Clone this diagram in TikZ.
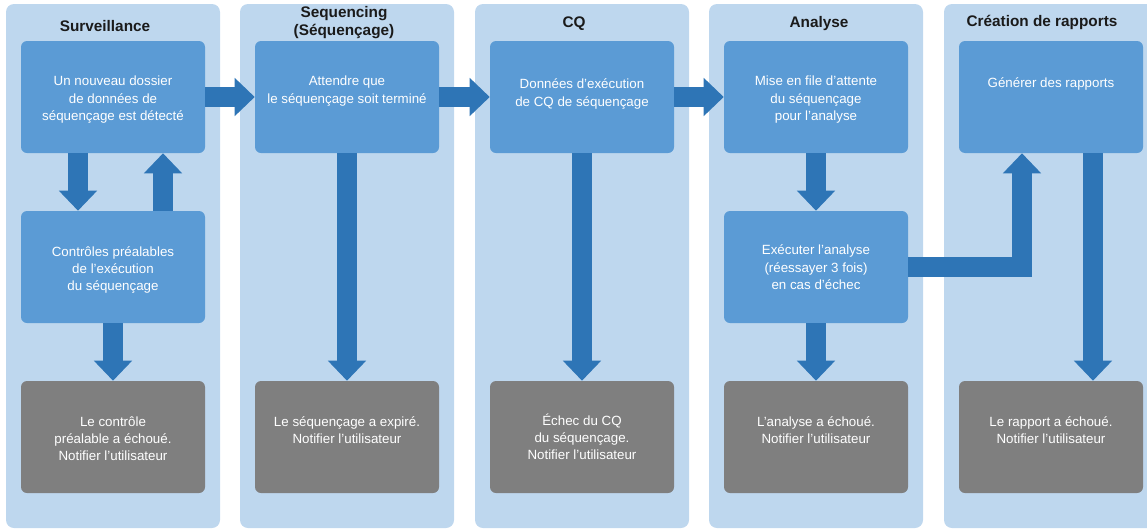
\documentclass[tikz,border=0pt]{standalone}
\usepackage{fontspec}
\setmainfont{Liberation Sans}
\usetikzlibrary{arrows.meta,calc}

\definecolor{lanebg}{RGB}{190,215,238}
\definecolor{stepblue}{RGB}{91,155,213}
\definecolor{flowblue}{RGB}{46,117,182}
\definecolor{failgrey}{RGB}{127,127,127}
\definecolor{titleink}{RGB}{26,26,26}

\tikzset{
  lane/.style={fill=lanebg, draw=none, rounded corners=6pt,
    minimum width=160.5pt, minimum height=393pt, inner sep=0pt},
  lanetitle/.style={font=\fontsize{11.5pt}{14pt}\selectfont\bfseries,
    text=titleink, align=center, inner sep=0pt},
  stepbox/.style={fill=stepblue, draw=none, rounded corners=4.5pt,
    minimum width=138pt, minimum height=84pt, inner sep=0pt},
  failbox/.style={stepbox, fill=failgrey},
  boxtext/.style={anchor=north, yshift=-26.5pt, align=center, text=white,
    inner sep=0pt, font=\fontsize{10pt}{13pt}\selectfont},
  flow/.style={draw=flowblue, line width=15pt, line cap=butt, line join=miter,
    -{Triangle[width=27.75pt,length=15pt]}},
}

\begin{document}
\begin{tikzpicture}[x=0.75pt, y=-0.75pt]
  \useasboundingbox (0,0) rectangle (1147,529);
  \clip (0,0) rectangle (1147,529);

  % swim lanes
  \node[lane] (L1) at (113,266) {};
  \node[lane] (L2) at (347,266) {};
  \node[lane] (L3) at (582,266) {};
  \node[lane] (L4) at (816,266) {};
  \node[lane] (L5) at (1051,266) {};

  % lane titles
  \node[lanetitle] (T1) at (105,26) {Surveillance};
  \node[lanetitle] (T2) at (344,22.5) {Sequencing\\(Séquençage)};
  \node[lanetitle] (T3) at (574,24) {CQ};
  \node[lanetitle] (T4) at (819,24) {Analyse};
  \node[lanetitle] (T5) at (1042,22) {Création de rapports};

  % Surveillance
  \node[stepbox, label={[boxtext]north:Un nouveau dossier\\de données de\\séquençage est détecté}] (s1) at (113,97) {};
  \node[stepbox, label={[boxtext]north:Contrôles préalables\\de l’exécution\\du séquençage}] (s2) at (113,267) {};
  \node[failbox, label={[boxtext]north:Le contrôle\\préalable a échoué.\\Notifier l’utilisateur}] (s3) at (113,437) {};

  % Sequencing
  \node[stepbox, label={[boxtext]north:Attendre que\\le séquençage soit terminé}] (q1) at (347,97) {};
  \node[failbox, label={[boxtext]north:Le séquençage a expiré.\\Notifier l’utilisateur}] (q2) at (347,437) {};

  % CQ
  \node[stepbox, label={[boxtext, yshift=-2pt]north:Données d’exécution\\de CQ de séquençage}] (c1) at (582,97) {};
  \node[failbox, label={[boxtext, yshift=2pt]north:Échec du CQ\\du séquençage.\\Notifier l’utilisateur}] (c2) at (582,437) {};

  % Analyse
  \node[stepbox, label={[boxtext]north:Mise en file d’attente\\du séquençage\\pour l’analyse}] (a1) at (816,97) {};
  \node[stepbox, label={[boxtext, yshift=1pt]north:Exécuter l’analyse\\(réessayer 3 fois)\\en cas d’échec}] (a2) at (816,267) {};
  \node[failbox, label={[boxtext]north:L’analyse a échoué.\\Notifier l’utilisateur}] (a3) at (816,437) {};

  % Création de rapports
  \node[stepbox, label={[boxtext, yshift=-1pt]north:Générer des rapports}] (r1) at (1051,97) {};
  \node[failbox, label={[boxtext]north:Le rapport a échoué.\\Notifier l’utilisateur}] (r2) at (1051,437) {};

  % flow between lanes
  \draw[flow] (s1.east) -- (q1.west);
  \draw[flow] (q1.east) -- (c1.west);
  \draw[flow] (c1.east) -- (a1.west);

  % Surveillance loop and failure
  \draw[flow] ($(s1.south)+(-35,0)$) -- ($(s2.north)+(-35,0)$);
  \draw[flow] ($(s2.north)+(50,0)$) -- ($(s1.south)+(50,0)$);
  \draw[flow] (s2.south) -- (s3.north);

  % failure paths
  \draw[flow] (q1.south) -- (q2.north);
  \draw[flow] (c1.south) -- (c2.north);
  \draw[flow] (a1.south) -- (a2.north);
  \draw[flow] (a2.south) -- (a3.north);
  \draw[flow] (a2.east) -| ($(r1.south)+(-29,0)$);
  \draw[flow] ($(r1.south)+(42,0)$) -- ($(r2.north)+(42,0)$);
\end{tikzpicture}
\end{document}
